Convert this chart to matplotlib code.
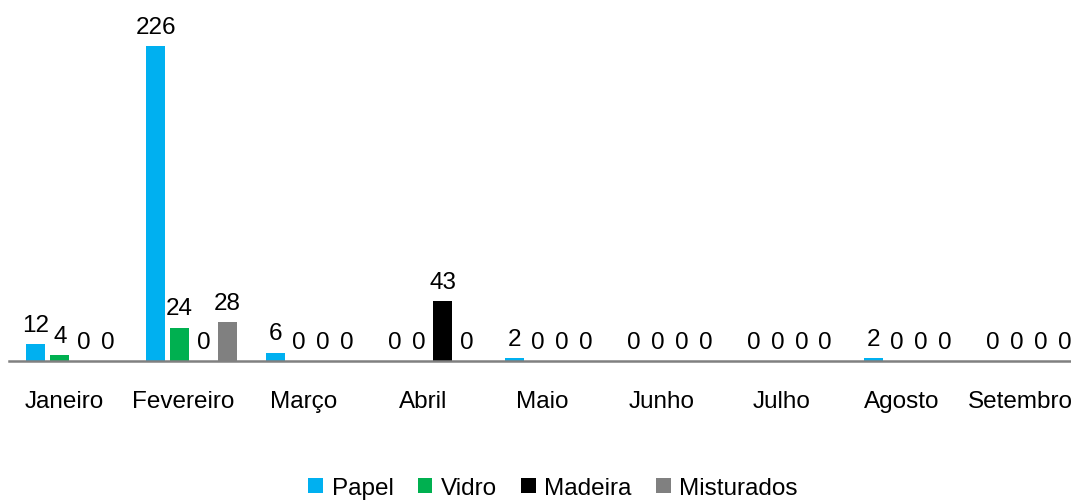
import matplotlib
matplotlib.use("Agg")
import matplotlib.pyplot as plt
import numpy as np

months = ["Janeiro", "Fevereiro", "Março", "Abril", "Maio", "Junho", "Julho", "Agosto", "Setembro"]
series_names = ["Papel", "Vidro", "Madeira", "Misturados"]
papel = [12, 226, 6, 0, 2, 0, 0, 2, 0]
vidro = [4, 24, 0, 0, 0, 0, 0, 0, 0]
madeira = [0, 0, 0, 43, 0, 0, 0, 0, 0]
misturados = [0, 28, 0, 0, 0, 0, 0, 0, 0]
colors = ["#00B0F0", "#00B050", "#000000", "#808080"]

plt.rcParams["font.family"] = ["Liberation Sans", "DejaVu Sans"]
FS = 17.5

W, H = 1071, 502
fig = plt.figure(figsize=(W / 100, H / 100), dpi=100)

# axes extend past the right edge so the last category is clipped
left_px, base_px = 9, 362
xmin, xmax = -0.46, 8.5
px_per_cat = 119.6
width_px = (xmax - xmin) * px_per_cat
ymax = 250
height_px = ymax * 1.394
ax = fig.add_axes([left_px / W, (H - base_px) / H, width_px / W, height_px / H])

x = np.arange(len(months))
step = 0.2
bw = 0.16
shift = 0.065
all_series = [papel, vidro, madeira, misturados]
for i, (name, vals, c) in enumerate(zip(series_names, all_series, colors)):
    pos = x + shift + (i - 1.5) * step
    ax.bar(pos, vals, width=bw, color=c, label=name, linewidth=0)
    for p, v in zip(pos, vals):
        ax.annotate(f"{v}", (p, v), xytext=(0, 6), textcoords="offset points",
                    ha="center", va="bottom", fontsize=FS, color="#000000")

ax.set_xlim(xmin, xmax)
ax.set_ylim(0, ymax)
ax.set_xticks(x)
ax.set_xticklabels(months, fontsize=FS)
ax.tick_params(axis="x", length=0, pad=21)
ax.set_yticks([])
for s in ["top", "right", "left"]:
    ax.spines[s].set_visible(False)
ax.spines["bottom"].set_color("#808080")
ax.spines["bottom"].set_linewidth(1.8)

fig.legend(loc="center", bbox_to_anchor=(553 / W, 1 - 489 / H), ncol=4,
           frameon=False, fontsize=FS, handlelength=0.6, handleheight=0.6,
           handletextpad=0.35, columnspacing=1.0, borderaxespad=0)

fig.savefig("out.png", dpi=100)
